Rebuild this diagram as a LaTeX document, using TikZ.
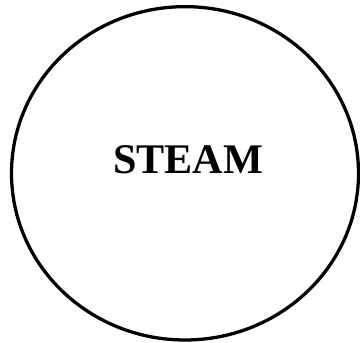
\documentclass[tikz,border=0pt]{standalone}
\usepackage{fontspec}
\setmainfont{Liberation Serif}
\usetikzlibrary{shapes.geometric,positioning}

\begin{document}
\begin{tikzpicture}[
    ring/.style={ellipse, draw=black, line width=2.8pt, inner sep=0pt,
                 minimum width=10.41cm, minimum height=10.0cm},
    title/.style={font=\fontsize{36}{40}\selectfont\bfseries, inner sep=0pt}
  ]
    \useasboundingbox (0,0) rectangle (10.8,10.29);

    % Outer ellipse
    \node[ring] (steam) at (5.55,5.09) {};

    % Label
    \node[title] (label) at (5.64,5.49) {STEAM};
  \end{tikzpicture}
\end{document}
